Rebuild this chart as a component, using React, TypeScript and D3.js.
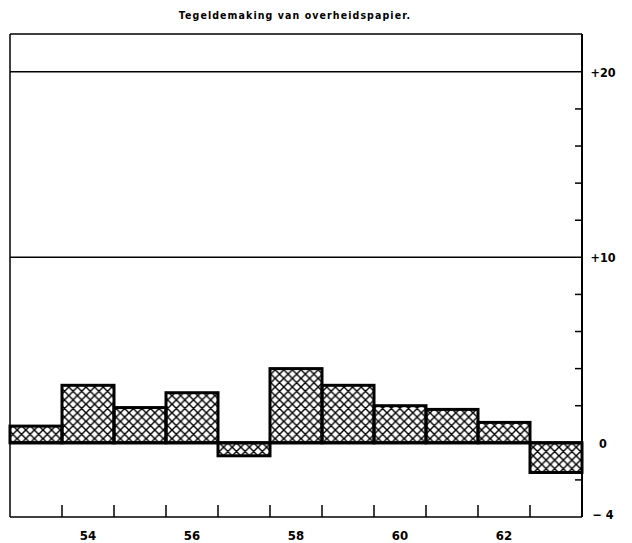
import React from "react";
import * as d3 from "d3";

const title = "Tegeldemaking van overheidspapier";
const years = [53, 54, 55, 56, 57, 58, 59, 60, 61, 62, 63];
const values = [0.9, 3.1, 1.9, 2.7, -0.7, 4.0, 3.1, 2.0, 1.8, 1.1, -1.6];
const yearLabels = [54, 56, 58, 60, 62];
const yTickLabels = [
  { v: 20, t: "+20" },
  { v: 10, t: "+10" },
  { v: 0, t: "0" },
  { v: -4, t: "\u2212 4" },
];
const minorTicks = [-2, 2, 4, 6, 8, 12, 14, 16, 18];
const gridValues = [20, 10];

const W = 632;
const H = 543;
const left = 10;
const right = 582;
const top = 34;
const bottom = 517;
const font = "'DejaVu Sans Condensed', 'Liberation Sans Narrow', 'DejaVu Sans', sans-serif";

export default function App() {
  const x = d3
    .scaleBand<number>()
    .domain(years)
    .range([left, right])
    .paddingInner(0)
    .paddingOuter(0);
  const y = d3.scaleLinear().domain([-4, 22.04]).range([bottom, top]);
  const bw = x.bandwidth();
  const boundaries = years.slice(1).map((yr) => x(yr)!);

  return (
    <svg width={W} height={H} style={{ display: "block", position: "absolute", left: 0, top: 0 }}>
      <defs>
        <pattern id="hatch" patternUnits="userSpaceOnUse" width={8.6} height={8.6}>
          <path d="M0,0 L8.6,8.6 M8.6,0 L0,8.6 M-1,7.6 L1,9.6 M7.6,-1 L9.6,1 M-1,1 L1,-1 M7.6,9.6 L9.6,7.6" stroke="#000" strokeWidth={1.4} />
        </pattern>
      </defs>
      <rect x={0} y={0} width={W} height={H} fill="#fff" />
      <text
        x={295}
        y={19}
        textAnchor="middle"
        fontFamily={font}
        fontWeight="bold"
        fontSize={10.5}
        letterSpacing={1.1}
        fill="#000"
      >
        {title}
        <tspan>.</tspan>
      </text>
      {/* frame */}
      <line x1={left} x2={right} y1={top} y2={top} stroke="#000" strokeWidth={1.5} />
      <line x1={left} x2={left} y1={top} y2={bottom} stroke="#000" strokeWidth={1.5} />
      <line x1={left} x2={right} y1={bottom} y2={bottom} stroke="#000" strokeWidth={1.5} />
      <line x1={right} x2={right} y1={top} y2={bottom} stroke="#000" strokeWidth={2} />
      {/* grid */}
      {gridValues.map((v) => (
        <line key={v} x1={left} x2={right} y1={y(v)} y2={y(v)} stroke="#000" strokeWidth={1.5} />
      ))}
      {/* minor ticks on right axis */}
      {minorTicks.map((v) => (
        <line key={v} x1={right - 7} x2={right} y1={y(v)} y2={y(v)} stroke="#000" strokeWidth={1.5} />
      ))}
      {/* bottom ticks */}
      {boundaries.map((bx, i) => (
        <line key={i} x1={bx} x2={bx} y1={bottom - 12} y2={bottom} stroke="#000" strokeWidth={1.5} />
      ))}
      {/* bars */}
      {years.map((yr, i) => {
        const v = values[i];
        const y0 = y(Math.max(0, v));
        const h = Math.abs(y(v) - y(0));
        return (
          <rect
            key={yr}
            x={x(yr)!}
            y={y0}
            width={bw}
            height={h}
            fill="url(#hatch)"
            stroke="#000"
            strokeWidth={3}
          />
        );
      })}
      <line x1={left} x2={right} y1={y(0)} y2={y(0)} stroke="#000" strokeWidth={3} />
      {/* y labels */}
      {yTickLabels.map((d) => (
        <text
          key={d.v}
          x={603}
          y={y(d.v) + (d.v === -4 ? 2 : 5)}
          textAnchor="middle"
          fontFamily={font}
          fontWeight="bold"
          fontSize={12.5}
          fill="#000"
        >
          {d.t}
        </text>
      ))}
      {/* x labels */}
      {yearLabels.map((yr) => (
        <text
          key={yr}
          x={x(yr)! + bw / 2}
          y={540}
          textAnchor="middle"
          fontFamily={font}
          fontWeight="bold"
          fontSize={13}
          fill="#000"
        >
          {yr}
        </text>
      ))}
    </svg>
  );
}
